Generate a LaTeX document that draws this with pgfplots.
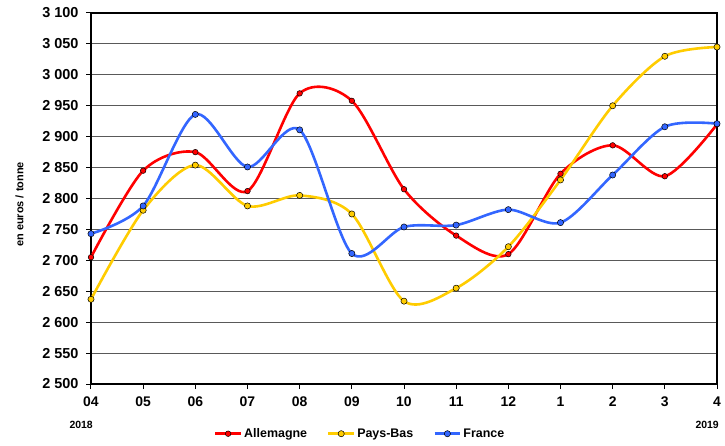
\documentclass[border=0pt]{standalone}
\usepackage{fontspec}
\setmainfont{Liberation Sans}
\usepackage{pgfplots}
\pgfplotsset{compat=1.18}
\definecolor{cRed}{HTML}{FF0000}
\definecolor{cYel}{HTML}{FFCC00}
\definecolor{cBlu}{HTML}{3366FF}
\begin{document}
\begin{tikzpicture}
\path[use as bounding box] (-91bp,-62bp) rectangle (634bp,384bp);
\begin{axis}[
  at={(0,0)}, anchor=south west,
  scale only axis, width=626bp, height=371bp,
  xmin=0, xmax=12, ymin=2500, ymax=3100,
  xtick={0,...,12},
  xticklabels={04,05,06,07,08,09,10,11,12,1,2,3,4},
  ytick={2500,2550,...,3100},
  /pgf/number format/assume math mode=true,
  /pgf/number format/1000 sep={\ },
  yticklabel style={font=\bfseries\fontsize{14.5}{16}\selectfont, xshift=-4bp},
  xticklabel style={font=\bfseries\fontsize{14}{16}\selectfont, yshift=-4bp},
  tick align=outside, major tick length=5bp,
  xtick pos=bottom, ytick pos=left,
  tick style={black, line width=1bp},
  ymajorgrids, grid style={black!65, line width=1bp},
  axis line style={black, line width=1.1bp},
  ylabel={en euros / tonne},
  every axis y label/.style={at={(axis description cs:-0.114,0.484)}, rotate=90, anchor=center, font=\bfseries\fontsize{11}{13}\selectfont},
  legend columns=3,
  legend style={at={(axis description cs:0.43,-0.134)}, anchor=center, draw=none, fill=none,
    font=\bfseries\fontsize{12.5}{15}\selectfont,
    /tikz/every even column/.append style={column sep=18bp}},
  legend image code/.code={\draw[mark repeat=2,mark phase=2] plot coordinates {(0cm,0cm)(0.45cm,0cm)(0.9cm,0cm)};},
  clip=false,
]
\addplot[cRed, line width=2.6bp, smooth, tension=0.5, mark=*, mark size=2.8bp, mark options={fill=cRed, draw=black, line width=0.5bp}]
 coordinates {(0,2705)(1,2845)(2,2875)(3,2812)(4,2970)(5,2958)(6,2815)(7,2740)(8,2710)(9,2840)(10,2886)(11,2836)(12,2920)};
\addlegendentry{Allemagne}
\addplot[cYel, line width=2.6bp, smooth, tension=0.5, mark=*, mark size=3.1bp, mark options={fill=cYel, draw=black, line width=0.5bp}]
 coordinates {(0,2637)(1,2781)(2,2854)(3,2788)(4,2805)(5,2775)(6,2634)(7,2655)(8,2722)(9,2830)(10,2950)(11,3030)(12,3045)};
\addlegendentry{Pays-Bas}
\addplot[cBlu, line width=2.6bp, smooth, tension=0.5, mark=*, mark size=3.1bp, mark options={fill=cBlu, draw=black, line width=0.5bp}]
 coordinates {(0,2743)(1,2788)(2,2936)(3,2851)(4,2911)(5,2711)(6,2754)(7,2757)(8,2782)(9,2761)(10,2838)(11,2916)(12,2921)};
\addlegendentry{France}
\node[anchor=east, font=\bfseries\fontsize{10.5}{12}\selectfont, inner sep=0pt] at (axis cs:0,2500) [yshift=-40.5bp, xshift=2bp] {2018};
\node[anchor=east, font=\bfseries\fontsize{10.5}{12}\selectfont, inner sep=0pt] at (axis cs:12,2500) [yshift=-41bp, xshift=2bp] {2019};
\end{axis}
\end{tikzpicture}
\end{document}
